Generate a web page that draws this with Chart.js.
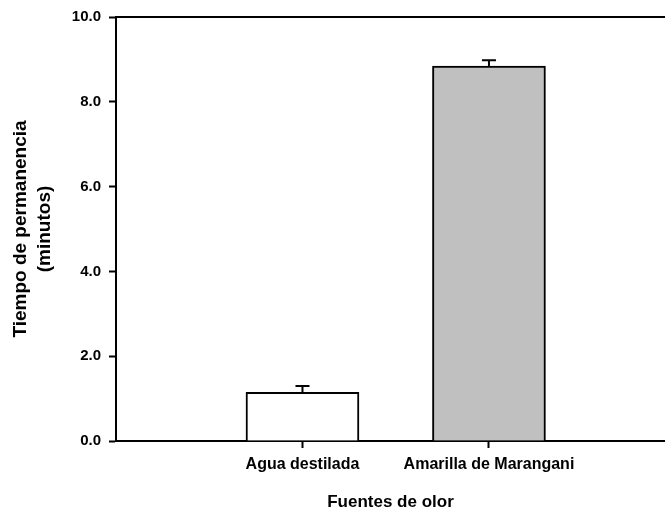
<!DOCTYPE html>
<html>
<head>
<meta charset="utf-8">
<script src="https://cdn.jsdelivr.net/npm/chart.js@4"></script>
<style>
  html, body { margin: 0; padding: 0; background: #fff; }
  #wrap { width: 665px; height: 513px; }
</style>
</head>
<body>
<div id="wrap"><canvas id="grafico"></canvas></div>
<script>
const categorias = ['Agua destilada', 'Amarilla de Marangani'];
const posiciones = [1, 2];
const tiempos = [1.15, 8.84];
const errores = [0.15, 0.14];
const colores = ['#ffffff', '#c0c0c0'];
const ticksY = [0, 2, 4, 6, 8, 10];

const fuente = "'Liberation Sans', Arial, sans-serif";

// barras de error (solo hacia arriba, con tapa)
const barrasError = {
    id: 'barrasError',
    afterDatasetsDraw(chart) {
        const ctx = chart.ctx;
        const y = chart.scales.y;
        const meta = chart.getDatasetMeta(0);
        ctx.save();
        ctx.strokeStyle = '#000';
        ctx.lineWidth = 2;
        meta.data.forEach((bar, i) => {
            const yTop = y.getPixelForValue(tiempos[i] + errores[i]);
            const yBar = y.getPixelForValue(tiempos[i]);
            ctx.beginPath();
            ctx.moveTo(bar.x, yBar);
            ctx.lineTo(bar.x, yTop);
            ctx.moveTo(bar.x - 7, yTop);
            ctx.lineTo(bar.x + 7, yTop);
            ctx.stroke();
        });
        // linea superior del marco
        const a = chart.chartArea;
        ctx.beginPath();
        ctx.moveTo(a.left, a.top);
        ctx.lineTo(a.right, a.top);
        ctx.stroke();
        ctx.restore();
    }
};

new Chart(document.getElementById('grafico').getContext('2d'), {
    type: 'bar',
    data: {
        datasets: [{
            data: posiciones.map((p, i) => ({ x: p, y: tiempos[i] })),
            backgroundColor: colores,
            borderColor: '#000',
            borderWidth: 2,
            barThickness: 113
        }]
    },
    options: {
        animation: false,
        responsive: true,
        maintainAspectRatio: false,
        layout: { padding: { top: 17, right: 0, bottom: 0, left: 0 } },
        plugins: { legend: { display: false }, tooltip: { enabled: false } },
        scales: {
            x: {
                type: 'linear',
                offset: false,
                min: 0,
                max: 2.944,
                afterBuildTicks: s => { s.ticks = posiciones.map(v => ({ value: v })); },
                afterFit: s => { s.height = 72; },
                border: { display: true, color: '#000', width: 2 },
                grid: { offset: false, drawOnChartArea: false, drawTicks: true, tickLength: 7, tickColor: '#000', tickWidth: 2 },
                ticks: {
                    color: '#000',
                    padding: 7,
                    maxRotation: 0,
                    autoSkip: false,
                    font: { family: fuente, size: 16, weight: 'bold' },
                    callback: v => categorias[posiciones.indexOf(v)]
                },
                title: {
                    display: true,
                    text: 'Fuentes de olor',
                    color: '#000',
                    padding: { top: 0, bottom: 0 },
                    font: { family: fuente, size: 17, weight: 'bold' }
                }
            },
            y: {
                min: 0,
                max: 10,
                afterBuildTicks: s => { s.ticks = ticksY.map(v => ({ value: v })); },
                afterFit: s => { s.width = 116; },
                border: { display: true, color: '#000', width: 2 },
                grid: { drawOnChartArea: false, drawTicks: true, tickLength: 7, tickColor: '#000', tickWidth: 2 },
                ticks: {
                    color: '#000',
                    padding: 8,
                    font: { family: fuente, size: 15, weight: 'bold' },
                    callback: v => v.toFixed(1)
                },
                title: {
                    display: true,
                    text: ['Tiempo de permanencia', '(minutos)'],
                    color: '#000',
                    padding: { top: 9, bottom: 0 },
                    font: { family: fuente, size: 19, weight: 'bold', lineHeight: 1.25 }
                }
            }
        }
    },
    plugins: [barrasError]
});
</script>
</body>
</html>
